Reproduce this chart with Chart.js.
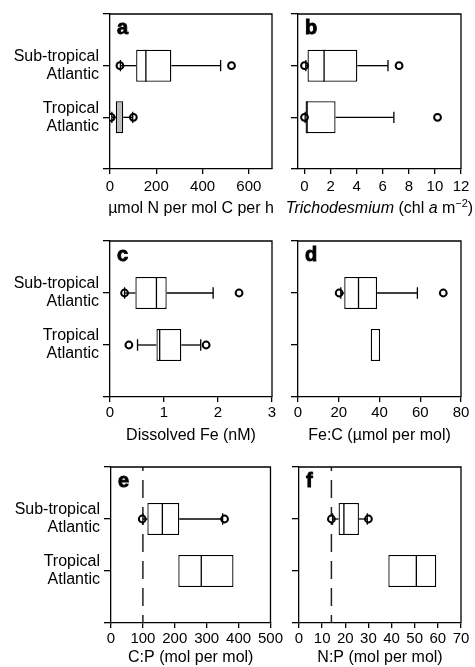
<!DOCTYPE html>
<html>
<head>
<meta charset="utf-8">
<script src="https://cdn.jsdelivr.net/npm/chart.js@4.4.1/dist/chart.umd.min.js"></script>
<style>
html, body { margin: 0; padding: 0; background: #fff; }
#wrap { position: relative; width: 475px; height: 667px; }
#wrap canvas { position: absolute; }
</style>
</head>
<body>
<div id="wrap">
  <canvas id="pa" width="285" height="225" style="left:0;top:0"></canvas>
  <canvas id="pb" width="190" height="225" style="left:285px;top:0"></canvas>
  <canvas id="pc" width="285" height="222" style="left:0;top:225px"></canvas>
  <canvas id="pd" width="190" height="222" style="left:285px;top:225px"></canvas>
  <canvas id="pe" width="285" height="220" style="left:0;top:447px"></canvas>
  <canvas id="pf" width="190" height="220" style="left:285px;top:447px"></canvas>
</div>
<script>
var FONT = "'Liberation Sans', Arial, Helvetica, sans-serif";

// categories on the y axis (1 = sub-tropical, 2 = tropical)
var groups = [['Sub-tropical', 'Atlantic'], ['Tropical', 'Atlantic']];
var yTicks = [0, 1, 2, 3];

// a - N2 fixation
var aTicks = [0, 200, 400, 600];
var aQ1 = [113, 25];
var aMed = [155, null];
var aQ3 = [265, 57];
var aLo = [45, 8];
var aHi = [478, 98];
var aOut = [[43, 525], [5, 101]];
var aTitle = [{t: 'µmol N per mol C per h'}];

// b - Trichodesmium
var bTicks = [0, 2, 4, 6, 8, 10, 12];
var bQ1 = [0.23, 0.08];
var bMed = [1.5, 0.2];
var bQ3 = [4.05, 2.38];
var bLo = [0.1, 0.05];
var bHi = [6.4, 6.85];
var bOut = [[0, 7.25], [0, 10.2]];
var bTitle = [{t: 'Trichodesmium', it: true}, {t: ' (chl '}, {t: 'a', it: true}, {t: ' m'}, {t: '−2', sup: true}, {t: ')'}];

// c - dissolved Fe
var cTicks = [0, 1, 2, 3];
var cQ1 = [0.47, 0.86];
var cMed = [0.86, 0.92];
var cQ3 = [1.05, 1.32];
var cLo = [0.27, 0.51];
var cHi = [1.91, 1.68];
var cOut = [[0.27, 2.39], [0.35, 1.78]];
var cTitle = [{t: 'Dissolved Fe (nM)'}];

// d - Fe:C
var dTicks = [0, 20, 40, 60, 80];
var dQ1 = [22.7, 35.7];
var dMed = [29.7, null];
var dQ3 = [38.8, 40.3];
var dLo = [21, null];
var dHi = [58.6, null];
var dOut = [[20.2, 71.3], []];
var dTitle = [{t: 'Fe:C (µmol per mol)'}];

// e - C:P
var eTicks = [0, 100, 200, 300, 400, 500];
var eQ1 = [114, 211];
var eMed = [161, 283];
var eQ3 = [214, 384];
var eLo = [100, null];
var eHi = [350, null];
var eOut = [[98, 356], []];
var eRef = 100;
var eTitle = [{t: 'C:P (mol per mol)'}];

// f - N:P
var fTicks = [0, 10, 20, 30, 40, 50, 60, 70];
var fQ1 = [17.1, 38.6];
var fMed = [19.4, 50.7];
var fQ3 = [25.9, 59.3];
var fLo = [14.5, null];
var fHi = [29.5, null];
var fOut = [[14, 30], []];
var fRef = 14;
var fTitle = [{t: 'N:P (mol per mol)'}];

var HALF = 0.31;  // half box height (y units)
var CAP = 0.11;   // half whisker cap height

Chart.defaults.font.family = FONT;
Chart.defaults.color = '#000';

function seg(x1, y1, x2, y2) {
  return {
    type: 'line', data: [{x: x1, y: y1}, {x: x2, y: y2}],
    borderColor: '#000', borderWidth: 1.3, pointRadius: 0, fill: false, order: 0
  };
}

function buildDatasets(p) {
  var ds = [];
  // outliers
  var pts = [];
  p.out.forEach(function (list, i) {
    list.forEach(function (v) { pts.push({x: v, y: i + 1}); });
  });
  ds.push({
    type: 'scatter', data: pts, pointStyle: 'circle', pointRadius: 3.4,
    pointBorderWidth: 2, pointBackgroundColor: '#fff', pointBorderColor: '#000',
    backgroundColor: '#fff', borderColor: '#000', order: 1
  });
  // medians + whiskers
  p.q1.forEach(function (q, i) {
    var y = i + 1;
    if (p.med[i] != null) ds.push(seg(p.med[i], y - HALF, p.med[i], y + HALF));
    if (p.lo[i] != null) {
      ds.push(seg(p.lo[i], y, q, y));
      ds.push(seg(p.lo[i], y - CAP, p.lo[i], y + CAP));
    }
    if (p.hi[i] != null) {
      ds.push(seg(p.q3[i], y, p.hi[i], y));
      ds.push(seg(p.hi[i], y - CAP, p.hi[i], y + CAP));
    }
  });
  // boxes
  ds.push({
    type: 'bar', indexAxis: 'y',
    data: p.q1.map(function (v, i) { return {x: [v, p.q3[i]], y: i + 1}; }),
    backgroundColor: p.fill || '#fff', borderColor: '#000', borderWidth: 1.3,
    borderSkipped: false, categoryPercentage: 1, barPercentage: HALF * 2, order: 2
  });
  // reference (Redfield) line
  if (p.ref != null) {
    ds.push({
      type: 'line', data: [{x: p.ref, y: 0}, {x: p.ref, y: 3}],
      borderColor: '#222', borderWidth: 1.5, borderDash: [18, 9], borderDashOffset: 14,
      pointRadius: 0, fill: false, order: 3
    });
  }
  return ds;
}

var panelDecor = {
  id: 'panelDecor',
  afterDraw: function (chart, args, opts) {
    var a = chart.chartArea, c = chart.ctx;
    c.save();
    c.strokeStyle = '#000';
    c.lineWidth = 1.3;
    c.beginPath();
    c.moveTo(a.left, a.top);
    c.lineTo(a.right, a.top);
    c.lineTo(a.right, a.bottom);
    c.stroke();
    // panel letter
    c.fillStyle = '#000';
    c.textAlign = 'left';
    c.textBaseline = 'alphabetic';
    c.font = 'bold 20px ' + FONT;
    c.fillText(opts.letter, a.left + 7, a.top + 20);
    c.lineWidth = 0.9;
    c.strokeText(opts.letter, a.left + 7, a.top + 20);
    // axis title (rich text)
    var runs = opts.title, widths = [], total = 0;
    function rf(r) { return (r.it ? 'italic ' : '') + (r.sup ? '11px ' : '16px ') + FONT; }
    runs.forEach(function (r) { c.font = rf(r); var w = c.measureText(r.t).width; widths.push(w); total += w; });
    var x = (a.left + a.right) / 2 - total / 2, y = a.bottom + opts.offset;
    runs.forEach(function (r, i) {
      c.font = rf(r);
      c.fillText(r.t, x, r.sup ? y - 6 : y);
      x += widths[i];
    });
    c.restore();
  }
};

function makeChart(p) {
  new Chart(document.getElementById(p.id), {
    type: 'scatter',
    data: {datasets: buildDatasets(p)},
    plugins: [panelDecor],
    options: {
      responsive: false,
      animation: false,
      events: [],
      layout: {padding: {top: p.tp, right: p.rp, left: 0, bottom: 0}},
      plugins: {
        legend: {display: false},
        tooltip: {enabled: false},
        panelDecor: {letter: p.letter, title: p.title, offset: p.tOff}
      },
      scales: {
        x: {
          type: 'linear', min: p.xmin, max: p.xmax, offset: false, beginAtZero: false,
          afterBuildTicks: function (s) { s.ticks = p.ticks.map(function (v) { return {value: v}; }); },
          afterFit: function (s) { s.height = p.xh; },
          grid: {offset: false, drawOnChartArea: false, drawTicks: true, tickLength: 5, color: '#000', lineWidth: 1.3},
          border: {display: true, color: '#000', width: 1.3},
          ticks: {color: '#000', font: {size: 15}, padding: p.tpad, maxRotation: 0, autoSkip: false}
        },
        y: {
          type: 'linear', reverse: true, min: 0, max: 3, offset: false,
          afterBuildTicks: function (s) { s.ticks = yTicks.map(function (v) { return {value: v}; }); },
          afterFit: function (s) { s.width = p.yw; },
          grid: {offset: false, drawOnChartArea: false, drawTicks: true, tickLength: 7, color: '#000', lineWidth: 1.3},
          border: {display: true, color: '#000', width: 1.3},
          ticks: {
            color: '#000', font: {size: 16, lineHeight: 1.13}, padding: 4, autoSkip: false,
            callback: function (v) { return (p.labels && v >= 1 && v <= 2) ? groups[v - 1] : ''; }
          }
        }
      }
    }
  });
}

makeChart({id: 'pa', letter: 'a', xmin: 0, xmax: 700, ticks: aTicks, q1: aQ1, med: aMed, q3: aQ3, lo: aLo, hi: aHi, out: aOut,
  title: aTitle, labels: true, yw: 110, rp: 13, tp: 14, xh: 56, tpad: 4, tOff: 44, fill: ['#fff', '#bdbdbd']});
makeChart({id: 'pb', letter: 'b', xmin: -0.5, xmax: 12, ticks: bTicks, q1: bQ1, med: bMed, q3: bQ3, lo: bLo, hi: bHi, out: bOut,
  title: bTitle, labels: false, yw: 13, rp: 14, tp: 14, xh: 56, tpad: 4, tOff: 44});
makeChart({id: 'pc', letter: 'c', xmin: 0, xmax: 3, ticks: cTicks, q1: cQ1, med: cMed, q3: cQ3, lo: cLo, hi: cHi, out: cOut,
  title: cTitle, labels: true, yw: 110, rp: 13, tp: 16, xh: 50, tpad: 2, tOff: 43});
makeChart({id: 'pd', letter: 'd', xmin: 0, xmax: 80, ticks: dTicks, q1: dQ1, med: dMed, q3: dQ3, lo: dLo, hi: dHi, out: dOut,
  title: dTitle, labels: false, yw: 13, rp: 14, tp: 16, xh: 50, tpad: 2, tOff: 43});
makeChart({id: 'pe', letter: 'e', xmin: 0, xmax: 500, ticks: eTicks, q1: eQ1, med: eMed, q3: eQ3, lo: eLo, hi: eHi, out: eOut, ref: eRef,
  title: eTitle, labels: true, yw: 111, rp: 13, tp: 20, xh: 44, tpad: 2, tOff: 39});
makeChart({id: 'pf', letter: 'f', xmin: 0, xmax: 70, ticks: fTicks, q1: fQ1, med: fMed, q3: fQ3, lo: fLo, hi: fHi, out: fOut, ref: fRef,
  title: fTitle, labels: false, yw: 14, rp: 14, tp: 20, xh: 44, tpad: 2, tOff: 39});
</script>
</body>
</html>
